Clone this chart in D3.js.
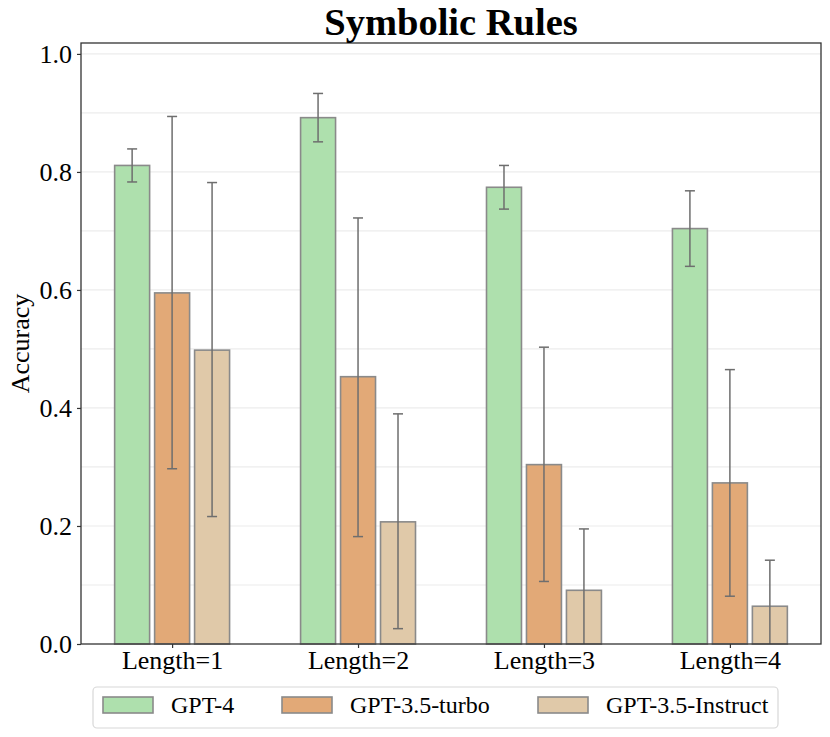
<!DOCTYPE html>
<html>
<head>
<meta charset="utf-8">
<script src="https://cdn.jsdelivr.net/npm/d3@7"></script>
<style>
  body { margin: 0; background: #fff; }
  text { font-family: "Liberation Serif", "Times New Roman", serif; }
</style>
</head>
<body>
<script>
// data
var categories = ["Length=1", "Length=2", "Length=3", "Length=4"];
var models = ["GPT-4", "GPT-3.5-turbo", "GPT-3.5-Instruct"];
var gpt4 = [0.811, 0.892, 0.774, 0.704];
var gpt4Lo = [0.783, 0.851, 0.737, 0.640];
var gpt4Hi = [0.839, 0.933, 0.811, 0.768];
var turbo = [0.595, 0.453, 0.304, 0.273];
var turboLo = [0.297, 0.182, 0.106, 0.081];
var turboHi = [0.894, 0.722, 0.503, 0.465];
var instruct = [0.498, 0.207, 0.091, 0.064];
var instructLo = [0.216, 0.026, 0.0, 0.0];
var instructHi = [0.782, 0.390, 0.195, 0.142];
var yTicks = [0.0, 0.2, 0.4, 0.6, 0.8, 1.0];
var colors = ["#aee0ad", "#e2a977", "#e0c9a9"];

var series = [
  { name: models[0], vals: gpt4, lo: gpt4Lo, hi: gpt4Hi },
  { name: models[1], vals: turbo, lo: turboLo, hi: turboHi },
  { name: models[2], vals: instruct, lo: instructLo, hi: instructHi }
];

var w = 830, h = 737;
var mLeft = 81, mRight = 821, mTop = 43, mBottom = 644;

var svg = d3.select("body").append("svg")
    .attr("width", w)
    .attr("height", h);

var x = d3.scalePoint()
    .domain(categories)
    .range([mLeft, mRight])
    .padding(0.49);

var step = x.step();
var xs = d3.scaleBand()
    .domain(models)
    .range([-0.3225 * step, 0.3225 * step])
    .paddingInner(0.125)
    .paddingOuter(0.0625);

var y = d3.scaleLinear()
    .domain([0, 1.0185])
    .range([mBottom, mTop]);

// grid
svg.append("g").selectAll("line")
    .data(d3.range(1, 11).map(function(d) { return d / 10; }))
    .enter().append("line")
    .attr("x1", mLeft).attr("x2", mRight)
    .attr("y1", function(d) { return y(d); })
    .attr("y2", function(d) { return y(d); })
    .attr("stroke", "#ececec")
    .attr("stroke-width", 1.2);

// bars
var groups = svg.selectAll("g.series")
    .data(series)
    .enter().append("g")
    .attr("class", "series");

groups.each(function(s, si) {
  var g = d3.select(this);
  g.selectAll("rect")
    .data(categories)
    .enter().append("rect")
    .attr("x", function(c) { return x(c) + xs(s.name); })
    .attr("y", function(c, i) { return y(s.vals[i]); })
    .attr("width", xs.bandwidth())
    .attr("height", function(c, i) { return y(0) - y(s.vals[i]); })
    .attr("fill", colors[si])
    .attr("stroke", "#8a8a8a")
    .attr("stroke-width", 1.6);
});

// error bars
groups.each(function(s) {
  var g = d3.select(this);
  categories.forEach(function(c, i) {
    var cx = x(c) + xs(s.name) + xs.bandwidth() / 2;
    g.append("line")
      .attr("x1", cx).attr("x2", cx)
      .attr("y1", y(s.lo[i])).attr("y2", y(s.hi[i]))
      .attr("stroke", "#6e6e6e").attr("stroke-width", 1.5);
    [s.lo[i], s.hi[i]].forEach(function(v) {
      if (v <= 0) return;
      g.append("line")
        .attr("x1", cx - 5).attr("x2", cx + 5)
        .attr("y1", y(v)).attr("y2", y(v))
        .attr("stroke", "#6e6e6e").attr("stroke-width", 1.5);
    });
  });
});

// frame
svg.append("rect")
    .attr("x", mLeft).attr("y", mTop)
    .attr("width", mRight - mLeft).attr("height", mBottom - mTop)
    .attr("fill", "none")
    .attr("stroke", "#333")
    .attr("stroke-width", 1.3);

// axes
var xAxis = svg.append("g")
    .attr("transform", "translate(0," + mBottom + ")")
    .call(d3.axisBottom(x).tickSize(4).tickPadding(3));
var yAxis = svg.append("g")
    .attr("transform", "translate(" + mLeft + ",0)")
    .call(d3.axisLeft(y).tickValues(yTicks).tickFormat(d3.format(".1f")).tickSize(4).tickPadding(5));

[xAxis, yAxis].forEach(function(a) {
  a.select(".domain").remove();
  a.selectAll(".tick line").attr("stroke", "#333").attr("stroke-width", 1.2);
  a.selectAll("text")
    .attr("fill", "#000")
    .style("font-family", "'Liberation Serif', serif")
    .style("font-size", "26px");
});

// title and y label
svg.append("text")
    .attr("x", (mLeft + mRight) / 2)
    .attr("y", 35)
    .attr("text-anchor", "middle")
    .style("font-size", "38.5px")
    .style("font-weight", "bold")
    .text("Symbolic Rules");

svg.append("text")
    .attr("transform", "translate(29," + ((mTop + mBottom) / 2) + ") rotate(-90)")
    .attr("text-anchor", "middle")
    .style("font-size", "26px")
    .text("Accuracy");

// legend
var legend = svg.append("g");
legend.append("rect")
    .attr("x", 93).attr("y", 687)
    .attr("width", 685).attr("height", 41)
    .attr("rx", 4)
    .attr("fill", "#fff")
    .attr("stroke", "#d8d8d8")
    .attr("stroke-width", 1.2);

var legendX = [103, 282, 538];
var items = legend.selectAll("g.item")
    .data(models)
    .enter().append("g")
    .attr("class", "item")
    .attr("transform", function(d, i) { return "translate(" + legendX[i] + ",697)"; });

items.append("rect")
    .attr("width", 50).attr("height", 16)
    .attr("fill", function(d, i) { return colors[i]; })
    .attr("stroke", "#8a8a8a")
    .attr("stroke-width", 1.6);

items.append("text")
    .attr("x", 68)
    .attr("y", 16)
    .style("font-size", "24px")
    .text(function(d) { return d; });
</script>
</body>
</html>
